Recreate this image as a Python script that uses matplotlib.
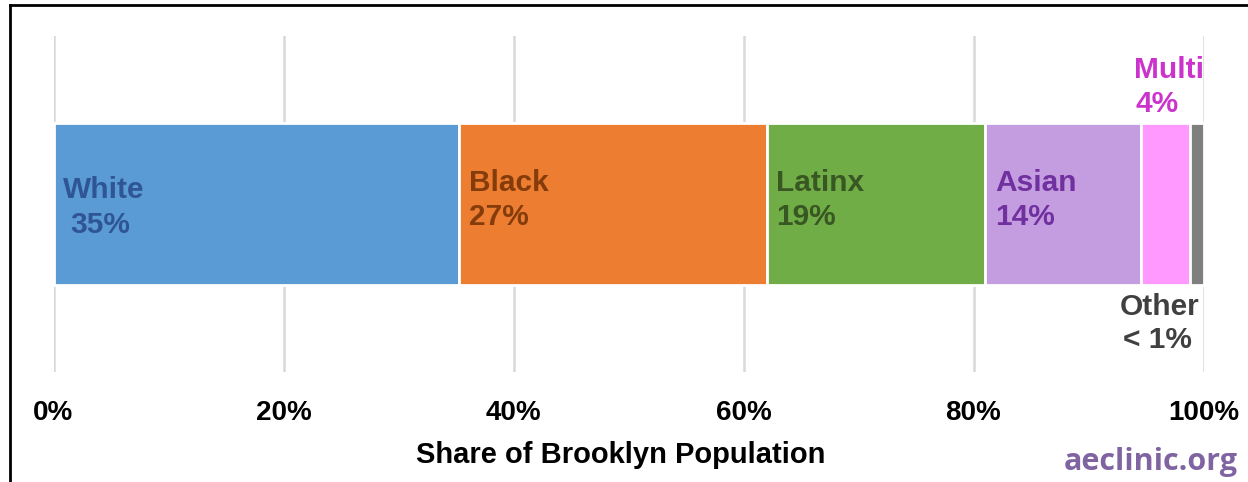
import numpy as np
import matplotlib
matplotlib.use("Agg")
from matplotlib import pyplot as plt
from matplotlib.lines import Line2D

# data
groups = ["White", "Black", "Latinx", "Asian", "Multi", "Other"]
shares = [35.3, 26.7, 19.0, 13.6, 4.2, 1.2]
pct_labels = ["35%", "27%", "19%", "14%", "4%", "< 1%"]
ticks = [0, 20, 40, 60, 80, 100]
tick_labels = ["0%", "20%", "40%", "60%", "80%", "100%"]

bar_colors = ["#5b9bd5", "#ed7d31", "#70ad47", "#c49de0", "#ff99ff", "#7f7f7f"]
text_colors = ["#2f5597", "#843c0b", "#385723", "#7030a0", "#cc33cc", "#404040"]

plt.rcParams['font.family'] = ['Liberation Sans', 'DejaVu Sans']

fig = plt.figure(figsize=(12.48, 4.82), dpi=100)
ax = fig.add_axes([53.5 / 1248, 1 - 372 / 482, 1150 / 1248, 336 / 482])

lefts = np.concatenate([[0], np.cumsum(shares)[:-1]])
ax.barh(0, shares, left=lefts, height=0.485, color=bar_colors,
        edgecolor="white", linewidth=2, zorder=2)

ax.set_xlim(0, 100)
ax.set_ylim(-0.5, 0.5)
ax.set_xticks(ticks)
ax.set_xticklabels(tick_labels, fontsize=20, fontweight="bold")
ax.set_yticks([])
ax.tick_params(axis="x", length=0, pad=20)
for s in ax.spines.values():
    s.set_visible(False)
ax.grid(axis="x", color="#d9d9d9", linewidth=1.8, zorder=0)
ax.set_axisbelow(True)

ax.set_xlabel("Share of Brooklyn Population", fontsize=21, fontweight="bold")
ax.xaxis.set_label_coords(0.493, -0.205)

# labels inside the big segments
for i in range(4):
    x0 = lefts[i] + 0.85
    if i == 0:
        ax.text(x0, 0.042, groups[i], color=text_colors[i], fontsize=21.5,
                fontweight="bold", ha="left", va="center")
        ax.text(x0 + 0.6, -0.062, pct_labels[i], color=text_colors[i],
                fontsize=21.5, fontweight="bold", ha="left", va="center")
    else:
        ax.text(x0, 0.063, groups[i], color=text_colors[i], fontsize=21.5,
                fontweight="bold", ha="left", va="center")
        ax.text(x0, -0.038, pct_labels[i], color=text_colors[i],
                fontsize=21.5, fontweight="bold", ha="left", va="center")

# small segments labelled outside
ax.text(100, 0.398, groups[4], color=text_colors[4], fontsize=21.5,
        fontweight="bold", ha="right", va="center")
ax.text(96.0, 0.297, pct_labels[4], color=text_colors[4], fontsize=21.5,
        fontweight="bold", ha="center", va="center")
ax.text(96.2, -0.307, groups[5], color=text_colors[5], fontsize=21.5,
        fontweight="bold", ha="center", va="center")
ax.text(96.0, -0.405, pct_labels[5], color=text_colors[5], fontsize=21.5,
        fontweight="bold", ha="center", va="center")

fig.text(1238 / 1248, 1 - 462 / 482, "aeclinic.org", color="#8064a2",
         fontsize=22, fontweight="bold", ha="right", va="center",
         family=["Open Sans", "DejaVu Sans"])

# frame of the original figure box (left and top edges)
fig.add_artist(Line2D([10 / 1248, 10 / 1248], [0, 1 - 5 / 482],
                      transform=fig.transFigure, color="black", linewidth=2))
fig.add_artist(Line2D([10 / 1248, 1], [1 - 5 / 482, 1 - 5 / 482],
                      transform=fig.transFigure, color="black", linewidth=2))

fig.savefig("out.png", dpi=100)
